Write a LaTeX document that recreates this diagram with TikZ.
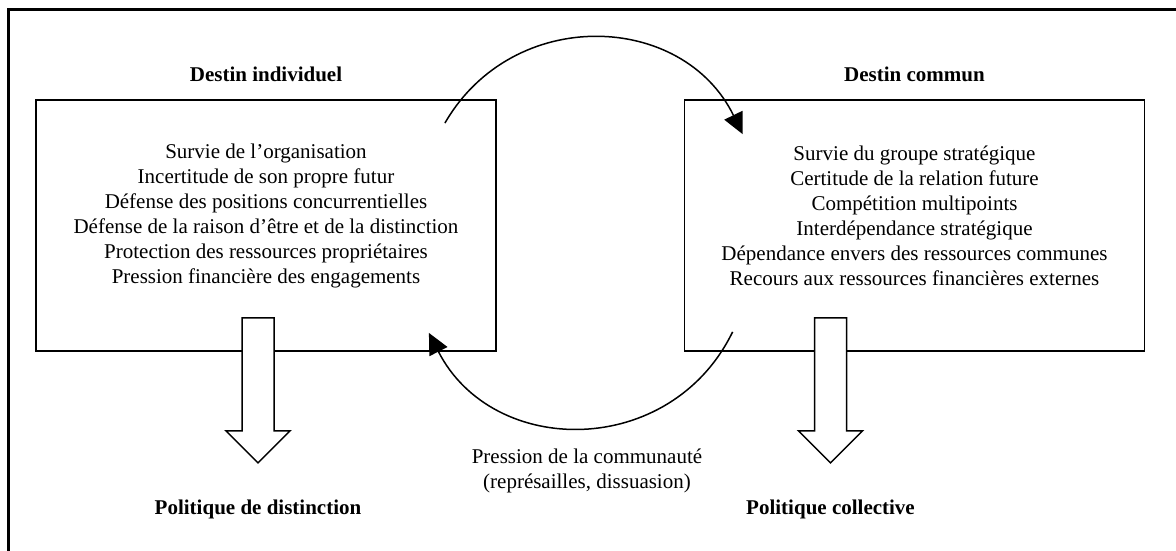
\documentclass[tikz,border=0pt]{standalone}
\usepackage{fontspec}
\setmainfont{Liberation Serif}
\usetikzlibrary{arrows.meta,positioning}
\begin{document}
\begin{tikzpicture}[x=1pt, y=1pt,
        font=\fontsize{21}{25}\selectfont,
        cadre/.style={draw, line width=1.8pt, inner sep=0pt, minimum width=460pt, minimum height=251pt},
        titre/.style={font=\fontsize{21}{25}\selectfont\bfseries},
        liste/.style={align=center},
        boucle/.style={line width=1.5pt, -{Triangle[length=21pt,width=20pt]}},
        fleche/.style={draw, fill=white, line width=1.5pt}]
    \useasboundingbox (0,0) rectangle (1176,-551);
    \draw[line width=3pt] (1176,-10) -- (8,-10) -- (8,-551);
    % les deux cadres
    \node[cadre] (indiv) at (266,-225.5) {};
    \node[cadre] (commun) at (914.5,-225.5) {};
    \node[titre] (t-indiv) at ([yshift=25pt]indiv.north) {Destin individuel};
    \node[titre] (t-commun) at ([yshift=25pt]commun.north) {Destin commun};
    \node[liste] (l-indiv) at ([yshift=10pt]indiv.center) {Survie de l’organisation\\
        Incertitude de son propre futur\\
        Défense des positions concurrentielles\\
        Défense de la raison d’être et de la distinction\\
        Protection des ressources propriétaires\\
        Pression financière des engagements};
    \node[liste] (l-commun) at ([yshift=10pt]commun.center) {Survie du groupe stratégique\\
        Certitude de la relation future\\
        Compétition multipoints\\
        Interdépendance stratégique\\
        Dépendance envers des ressources communes\\
        Recours aux ressources financières externes};
    % les boucles
    \coordinate (a1) at ([shift={(-52,-24)}]indiv.north east);
    \coordinate (b1) at ([shift={(59,-35)}]commun.north west);
    \coordinate (a2) at ([shift={(49,20)}]commun.south west);
    \coordinate (b2) at ([shift={(-68,19)}]indiv.south east);
    \draw[boucle] (a1) .. controls +(60:136) and +(116:136) .. (b1);
    \draw[boucle] (a2) .. controls +(-116:141) and +(-63:141) .. (b2);
    \node[liste] (pression) at (587,-471) {Pression de la communauté\\(représailles, dissuasion)};
    % les fleches vers les politiques
    \coordinate (f-indiv) at ([xshift=-8pt]indiv.south);
    \coordinate (f-commun) at ([xshift=-84pt]commun.south);
    \foreach \c in {f-indiv, f-commun}
        {
            \draw[fleche] (\c) ++(-16,34) -- ++(32,0) -- ++(0,-113) -- ++(16,0)
                -- ++(-32,-32) -- ++(-32,32) -- ++(16,0) -- cycle;
        }
    \node[titre] (p-indiv) at ([yshift=-158pt]f-indiv) {Politique de distinction};
    \node[titre] (p-commun) at ([yshift=-158pt]f-commun) {Politique collective};
\end{tikzpicture}
\end{document}
